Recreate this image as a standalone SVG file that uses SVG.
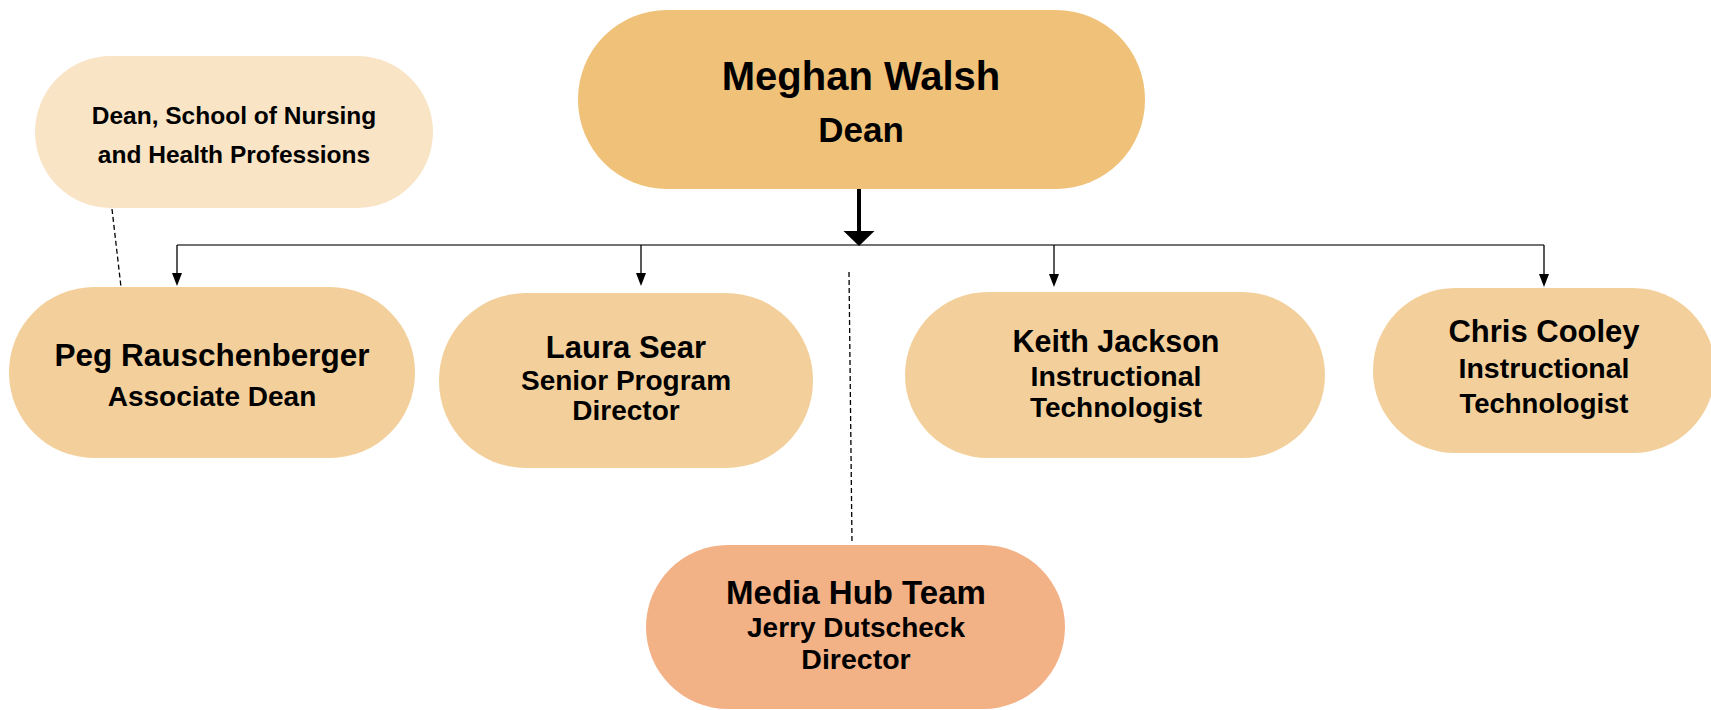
<svg xmlns="http://www.w3.org/2000/svg" width="1711" height="710" viewBox="0 0 1711 710">
<style>
text{font-family:"Liberation Sans",Arial,sans-serif;font-weight:bold;fill:#000;text-anchor:middle}
.main{fill:#F0C178}
.child{fill:#F3D09B}
.light{fill:#F9E4C6}
.media{fill:#F3B186}
.bus{stroke:#444;stroke-width:1.6;fill:none}
.drop{stroke:#000;stroke-width:1.3;fill:none}
.dash{stroke:#000;stroke-width:1.3;stroke-dasharray:5 3;fill:none}
</style>
<g id="connectors">
<path class="bus" d="M177,245 H1544"/>
<line x1="859" y1="189" x2="859" y2="233" stroke="#000" stroke-width="4"/>
<path d="M843.5,231 L874.5,231 L859,246 Z" fill="#000"/>
<path class="drop" d="M177,245 V274"/><path d="M172,273 L182,273 L177,286 Z" fill="#000"/>
<path class="drop" d="M641,245 V274"/><path d="M636,273 L646,273 L641,286 Z" fill="#000"/>
<path class="drop" d="M1054,245 V275"/><path d="M1049,274 L1059,274 L1054,287 Z" fill="#000"/>
<path class="drop" d="M1544,245 V275"/><path d="M1539,274 L1549,274 L1544,287 Z" fill="#000"/>
<line class="dash" x1="112" y1="209" x2="121" y2="287"/>
<line class="dash" x1="849" y1="272" x2="852" y2="542"/>
</g>
<g id="node-meghan">
<rect class="main" x="578" y="10" width="567" height="179" rx="89" ry="89"/>
<text x="861" y="90" font-size="40">Meghan Walsh</text>
<text x="861" y="142" font-size="35">Dean</text>
</g>
<g id="node-dean-school">
<rect class="light" x="35" y="56" width="398" height="152" rx="76" ry="76"/>
<text x="234" y="124" font-size="24.5">Dean, School of Nursing</text>
<text x="234" y="163" font-size="24.5">and Health Professions</text>
</g>
<g id="node-peg">
<rect class="child" x="9" y="287" width="406" height="171" rx="85" ry="85"/>
<text x="212" y="366" font-size="31.5">Peg Rauschenberger</text>
<text x="212" y="406" font-size="28">Associate Dean</text>
</g>
<g id="node-laura">
<rect class="child" x="439" y="293" width="374" height="175" rx="87" ry="87"/>
<text x="626" y="358" font-size="31">Laura Sear</text>
<text x="626" y="390" font-size="28">Senior Program</text>
<text x="626" y="420" font-size="28">Director</text>
</g>
<g id="node-keith">
<rect class="child" x="905" y="292" width="420" height="166" rx="83" ry="83"/>
<text x="1116" y="352" font-size="30.5">Keith Jackson</text>
<text x="1116" y="386" font-size="28.5">Instructional</text>
<text x="1116" y="417" font-size="28">Technologist</text>
</g>
<g id="node-chris">
<rect class="child" x="1373" y="288" width="342" height="165" rx="82" ry="82"/>
<text x="1544" y="342" font-size="31">Chris Cooley</text>
<text x="1544" y="378" font-size="28.5">Instructional</text>
<text x="1544" y="413" font-size="27.5">Technologist</text>
</g>
<g id="node-media">
<rect class="media" x="646" y="545" width="419" height="164" rx="82" ry="82"/>
<text x="856" y="604" font-size="33">Media Hub Team</text>
<text x="856" y="637" font-size="28">Jerry Dutscheck</text>
<text x="856" y="669" font-size="28.5">Director</text>
</g>
</svg>
